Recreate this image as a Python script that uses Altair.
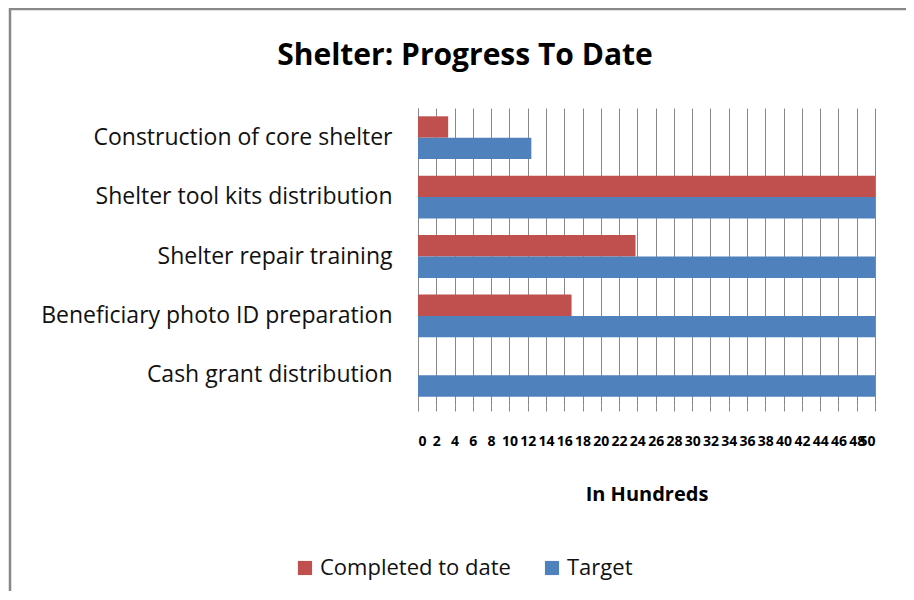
import altair as alt
import pandas as pd

categories = [
    "Construction of core shelter",
    "Shelter tool kits distribution",
    "Shelter repair training",
    "Beneficiary photo ID preparation",
    "Cash grant distribution",
]
series = ["Completed to date", "Target"]
completed = [3.3, 50, 23.8, 16.8, 0]
target = [12.4, 50, 50, 50, 50]
x_ticks = list(range(0, 51, 2))
chart_title = "Shelter: Progress To Date"

rows = []
for c, v1, v2 in zip(categories, completed, target):
    rows.append({"Activity": c, "Series": series[0], "Value": v1})
    rows.append({"Activity": c, "Series": series[1], "Value": v2})
df = pd.DataFrame(rows)

FONT = "Open Sans, sans-serif"

bars = alt.Chart(df).mark_bar(clip=True).encode(
    y=alt.Y("Activity:N", sort=categories,
            scale=alt.Scale(paddingInner=0.28, paddingOuter=0.14),
            axis=alt.Axis(title=None, ticks=False, labelFontSize=23, labelFont=FONT,
                          labelColor="#111", labelPadding=26, domainColor="#888",
                          labelLimit=500)),
    yOffset=alt.YOffset("Series:N", sort=series),
    x=alt.X("Value:Q", scale=alt.Scale(domain=[0, 50], nice=False),
            axis=alt.Axis(title="In Hundreds", values=x_ticks, labelOverlap=False,
                          labelFontSize=14, labelFontWeight="bold", labelFont=FONT,
                          labelColor="#000", labelPadding=23, tickSize=6,
                          tickColor="#888", gridColor="#888", domain=False,
                          titleFontSize=20, titleFontWeight="bold", titleFont=FONT,
                          titleColor="#000", titlePadding=36)),
    color=alt.Color("Series:N", sort=series,
                    scale=alt.Scale(domain=series, range=["#C0504D", "#4F81BD"]),
                    legend=alt.Legend(title=None, orient="none", direction="horizontal",
                                      legendX=-124, legendY=449, symbolType="square",
                                      symbolSize=200, symbolStrokeWidth=0,
                                      labelFontSize=22, labelFont=FONT, labelColor="#111",
                                      columnPadding=30, labelLimit=400)),
)

frame = alt.Chart(pd.DataFrame({"a": [0]})).mark_rect(
    fill=None, stroke="#888", strokeWidth=2.5, clip=False
).encode(x=alt.value(-408), x2=alt.value(560), y=alt.value(-99), y2=alt.value(600))

title = alt.Chart(pd.DataFrame({"t": [chart_title]})).mark_text(
    fontSize=30, fontWeight="bold", font=FONT, color="#000", align="center",
    baseline="middle"
).encode(text="t:N", x=alt.value(47), y=alt.value(-52))

chart = alt.layer(bars, frame, title).properties(
    width=457, height=297,
    padding={"left": 410, "top": 100, "right": 31, "bottom": 186},
    autosize=alt.AutoSizeParams(type="none"),
).configure_view(stroke=None)

chart.save("out.html", embed_options={"renderer": "svg", "actions": False})
